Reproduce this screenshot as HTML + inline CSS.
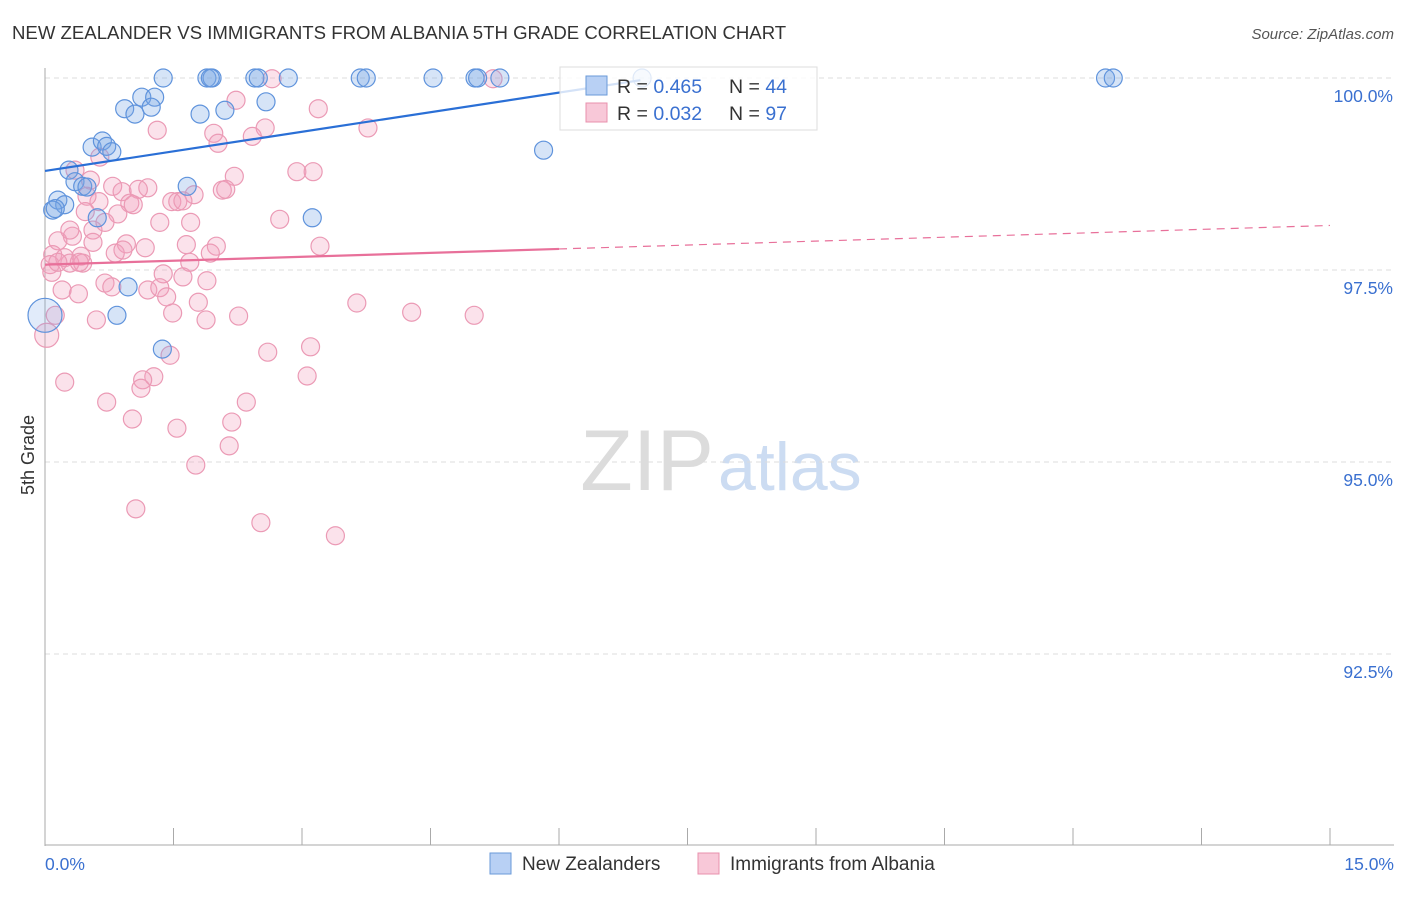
<!DOCTYPE html>
<html><head><meta charset="utf-8"><style>
body{margin:0;background:#fff;font-family:"Liberation Sans",sans-serif;}
svg text{font-family:"Liberation Sans",sans-serif;}
</style></head><body>
<svg width="1406" height="892" viewBox="0 0 1406 892" xmlns="http://www.w3.org/2000/svg">
<text x="12" y="39" font-size="18.6" fill="#333">NEW ZEALANDER VS IMMIGRANTS FROM ALBANIA 5TH GRADE CORRELATION CHART</text>
<text x="1394" y="39" font-size="15" fill="#555" font-style="italic" text-anchor="end">Source: ZipAtlas.com</text>
<text x="714" y="490" font-size="86" fill="#dcdcdc" text-anchor="end" font-family="Liberation Serif">ZIP</text>
<text x="718" y="490" font-size="68" fill="#ccdcf2">atlas</text>
<g id="grid"></g>
<g id="axes"></g>
<g id="pts"></g>
<g id="trend"></g>
<text transform="translate(34,455) rotate(-90)" font-size="18" fill="#333" text-anchor="middle">5th Grade</text>
<g>
<rect x="560" y="67" width="257" height="63" fill="rgba(255,255,255,0.8)" stroke="#ddd"/>
<rect x="586" y="76" width="21" height="19" fill="#b8d0f4" stroke="#6a9ad8"/>
<text x="617" y="93" font-size="19.5" fill="#333">R = <tspan fill="#3a70d0">0.465</tspan></text>
<text x="729" y="93" font-size="19.5" fill="#333">N = <tspan fill="#3a70d0">44</tspan></text>
<rect x="586" y="103" width="21" height="19" fill="#f8c8d8" stroke="#e890ad"/>
<text x="617" y="120" font-size="19.5" fill="#333">R = <tspan fill="#3a70d0">0.032</tspan></text>
<text x="729" y="120" font-size="19.5" fill="#333">N = <tspan fill="#3a70d0">97</tspan></text>
</g>
<g><rect x="490" y="853" width="21" height="21" fill="#b8d0f4" stroke="#6a9ad8"/><text x="522" y="870" font-size="19" fill="#333">New Zealanders</text></g>
<g><rect x="698" y="853" width="21" height="21" fill="#f8c8d8" stroke="#e890ad"/><text x="730" y="870" font-size="19" fill="#333">Immigrants from Albania</text></g>
</svg>
<script>
const xTicksLabels=["0.0%","15.0%"];
const yTicks=[100,97.5,95,92.5];
const yTickLabels=["100.0%","97.5%","95.0%","92.5%"];
const blueX=[1.38,1.89,1.95,1.93,2.45,2.49,2.84,3.68,3.75,4.53,5.02,5.05,5.31,6.97,12.38,12.47,0.93,1.05,1.13,1.28,1.24,1.81,2.10,2.58,0.55,0.67,0.72,0.78,0.28,0.35,0.44,0.49,0.15,0.23,0.09,0.61,1.66,3.12,5.82,0.97,0.84,1.37,0.0,0.12];
const blueY=[100,100,100,100,100,100,100,100,100,100,100,100,100,100,100,100,99.60,99.53,99.75,99.75,99.62,99.53,99.58,99.69,99.10,99.18,99.11,99.04,98.80,98.65,98.59,98.58,98.41,98.35,98.28,98.18,98.59,98.18,99.06,97.28,96.91,96.47,96.91,98.30];
const pinkX=[2.65,5.23,2.23,3.19,1.31,2.57,1.97,2.02,2.42,3.77,0.64,0.35,0.53,2.94,3.13,2.21,0.79,1.20,0.90,1.09,2.07,2.11,1.74,0.63,0.99,1.03,1.48,1.55,1.61,0.49,0.47,0.85,1.34,1.70,2.74,0.56,0.32,0.15,0.56,0.95,1.17,1.65,2.00,1.93,0.82,3.21,0.09,0.23,0.42,0.29,0.44,0.06,0.08,1.38,1.61,1.89,0.20,0.39,0.70,0.78,1.20,1.34,1.42,1.79,3.64,4.28,5.01,1.49,2.26,1.88,0.60,0.12,0.02,3.10,2.60,1.46,0.23,1.27,1.14,1.12,3.06,0.72,2.35,1.02,1.54,2.18,2.15,1.76,1.06,2.52,3.39,0.15,0.91,1.69,0.29,0.70,0.40];
const pinkY=[99.99,99.99,99.71,99.60,99.32,99.35,99.28,99.15,99.24,99.35,98.97,98.80,98.67,98.78,98.78,98.72,98.59,98.57,98.52,98.55,98.54,98.55,98.48,98.39,98.37,98.35,98.39,98.39,98.40,98.46,98.26,98.23,98.12,98.12,98.16,98.02,97.94,97.88,97.86,97.84,97.79,97.83,97.81,97.72,97.72,97.81,97.70,97.66,97.68,97.59,97.59,97.57,97.47,97.45,97.41,97.36,97.24,97.19,97.33,97.28,97.24,97.27,97.15,97.08,97.07,96.95,96.91,96.94,96.90,96.85,96.85,96.91,96.65,96.50,96.43,96.39,96.04,96.11,96.07,95.96,96.12,95.78,95.78,95.56,95.44,95.52,95.21,94.96,94.39,94.21,94.04,97.60,97.76,97.60,98.02,98.12,97.60];
const blueTrend=[98.79,0.17];   // intercept, slope per %
const pinkTrend=[97.57,0.034];
const NS="http://www.w3.org/2000/svg";
const X=v=>45+v/15*1285;
const Y=v=>78+(100-v)/2.5*192;
function mk(tag,attrs,parent){const e=document.createElementNS(NS,tag);for(const k in attrs)e.setAttribute(k,attrs[k]);parent.appendChild(e);return e;}
const grid=document.getElementById('grid'),axes=document.getElementById('axes'),pts=document.getElementById('pts'),tr=document.getElementById('trend');
yTicks.forEach((t,i)=>{
 const l=mk('line',{x1:45,x2:1394,y1:Y(t),y2:Y(t),stroke:'#ddd','stroke-dasharray':'5,4'},grid);
 
 
 const tx=mk('text',{x:1393,y:Y(t)+24,'font-size':17.5,fill:'#3a70d0','text-anchor':'end'},grid);
 tx.textContent=yTickLabels[i];
 
 
});
const ax=mk('line',{x1:45,x2:45,y1:68,y2:846,stroke:'#aaa'},axes);


const bx=mk('line',{x1:45,x2:1394,y1:845,y2:845,stroke:'#aaa'},axes);


for(let i=0;i<=10;i++){
 const tk=mk('line',{x1:X(i*1.5),x2:X(i*1.5),y1:828,y2:845,stroke:'#aaa'},axes);
 
 
}
const xl0=mk('text',{x:45,y:870,'font-size':17.5,fill:'#3a70d0'},axes);xl0.textContent=xTicksLabels[0];


const xl1=mk('text',{x:1394,y:870,'font-size':17.5,fill:'#3a70d0','text-anchor':'end'},axes);xl1.textContent=xTicksLabels[1];


pinkX.forEach((v,i)=>{
 const c=mk('circle',{cx:X(v),cy:Y(pinkY[i]),r:(i==72?12:9),fill:'rgba(242,160,188,0.3)',stroke:'#eb9ab5','stroke-width':1.2},pts);
 
 
});
blueX.forEach((v,i)=>{
 const big=i==42;
 const c=mk('circle',{cx:X(v),cy:Y(blueY[i]),r:(big?17:9),fill:big?'rgba(120,165,230,0.22)':'rgba(120,165,230,0.3)',stroke:'#5f93dc','stroke-width':1.2},pts);
 
 
});
const bl=mk('line',{x1:X(0),y1:Y(blueTrend[0]),x2:X(6.95),y2:Y(blueTrend[0]+blueTrend[1]*6.95),stroke:'#2a6fd6','stroke-width':2.2},tr);


const pl=mk('line',{x1:X(0),y1:Y(pinkTrend[0]),x2:X(6),y2:Y(pinkTrend[0]+pinkTrend[1]*6),stroke:'#e8709a','stroke-width':2.2},tr);


const pd=mk('line',{x1:X(6),y1:Y(pinkTrend[0]+pinkTrend[1]*6),x2:X(15),y2:Y(pinkTrend[0]+pinkTrend[1]*15),stroke:'#e8709a','stroke-width':1.2,'stroke-dasharray':'8,6'},tr);


</script>
</body></html>
